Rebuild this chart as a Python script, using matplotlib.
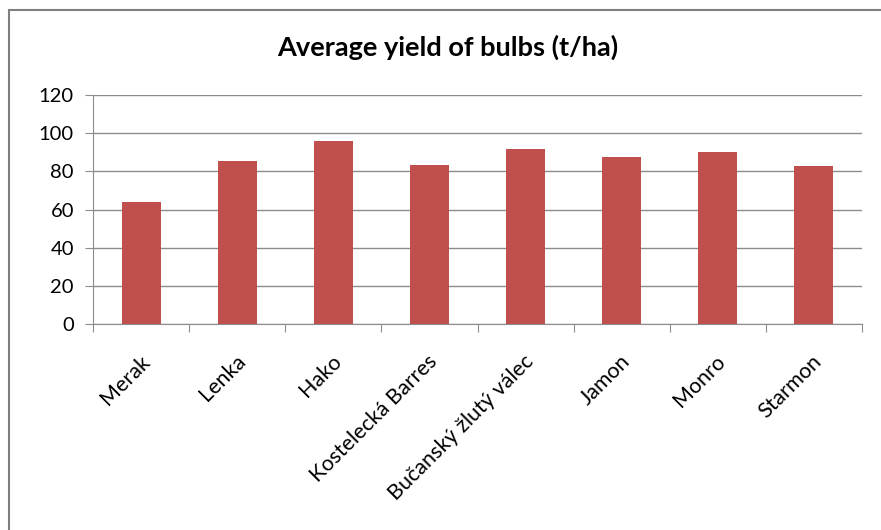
import matplotlib
matplotlib.use("Agg")
import matplotlib.pyplot as plt
import matplotlib.transforms as mtransforms
from matplotlib.patches import Rectangle

plt.rcParams["font.family"] = ["Lato", "DejaVu Sans"]

varieties = ["Merak", "Lenka", "Hako", "Kostelecká Barres",
             "Bučanský žlutý válec", "Jamon", "Monro", "Starmon"]
yield_t_ha = [64, 85.4, 95.9, 83.5, 91.5, 87.3, 90.3, 83]
y_ticks = [0, 20, 40, 60, 80, 100, 120]

bar_color = "#C0504D"
grid_color = "#8C8C8C"

fig = plt.figure(figsize=(8.81, 5.30), dpi=100)
ax = fig.add_axes([0.106, 0.388, 0.872, 0.433])

# chart border (only top and left visible in the original crop)
fig.patches.append(Rectangle((8.5 / 881, -0.1), 1.2, 1.1 - 10 / 530,
                             transform=fig.transFigure, fill=False,
                             edgecolor="#7F7F7F", linewidth=1.5))

x = range(len(varieties))
ax.bar(x, yield_t_ha, width=0.4, color=bar_color, zorder=3)

ax.set_xlim(-0.5, len(varieties) - 0.5)
ax.set_ylim(0, 120)
ax.set_yticks(y_ticks)
ax.yaxis.grid(True, color=grid_color, linewidth=1)
ax.set_axisbelow(True)

for side in ["top", "right"]:
    ax.spines[side].set_visible(False)
ax.spines["left"].set_color(grid_color)
ax.spines["bottom"].set_color(grid_color)

# category boundary ticks on x axis
ax.set_xticks([i - 0.5 for i in range(len(varieties) + 1)])
ax.set_xticklabels([])
ax.tick_params(axis="x", length=6, color=grid_color, direction="out")
ax.tick_params(axis="y", length=6, color=grid_color, labelsize=14.5, pad=8)

offset = mtransforms.ScaledTranslation(5 / 100, -34 / 100, fig.dpi_scale_trans)
for i, name in enumerate(varieties):
    ax.text(i, 0, name, transform=ax.get_xaxis_transform() + offset,
            rotation=45, rotation_mode="anchor", ha="right", va="center",
            fontsize=15.5)

fig.text(0.508, 0.91, "Average yield of bulbs (t/ha)", ha="center",
         va="center", fontsize=19.5, fontweight="bold")

fig.savefig("out.png", dpi=100)
